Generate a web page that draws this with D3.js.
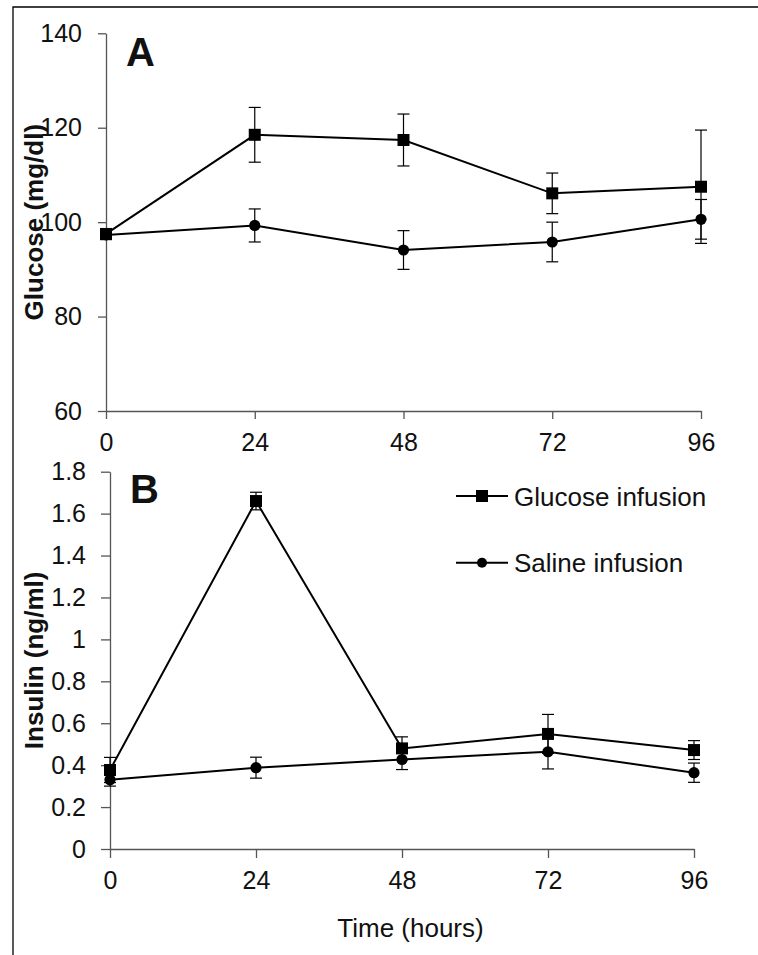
<!DOCTYPE html>
<html>
<head>
<meta charset="utf-8">
<script src="https://cdn.jsdelivr.net/npm/d3@7/dist/d3.min.js"></script>
<style>
  html, body { margin: 0; padding: 0; background: #fff; }
  svg { display: block; }
  text { font-family: "Liberation Sans", Arial, Helvetica, sans-serif; fill: #111; }
</style>
</head>
<body>
<svg id="fig" width="758" height="955"></svg>
<script>
// Sampling times (hours)
const hours = [0, 24, 48, 72, 96];
const xTicks = [0, 24, 48, 72, 96];

// Panel A: plasma glucose (mg/dl), mean and error
const glucoseArmGlucose = [97.5, 118.5, 117.4, 106.1, 107.5];
const glucoseArmGlucoseErr = [1.0, 5.8, 5.5, 4.3, 12.0];
const salineArmGlucose = [97.3, 99.3, 94.1, 95.8, 100.6];
const salineArmGlucoseErr = [1.0, 3.5, 4.1, 4.2, 4.2];
const yTicksA = [60, 80, 100, 120, 140];

// Panel B: plasma insulin (ng/ml), mean and error
const glucoseArmInsulin = [0.377, 1.66, 0.48, 0.549, 0.472];
const glucoseArmInsulinErr = [0.06, 0.042, 0.055, 0.093, 0.045];
const salineArmInsulin = [0.33, 0.388, 0.427, 0.464, 0.364];
const salineArmInsulinErr = [0.03, 0.05, 0.048, 0.082, 0.046];
const yTicksB = [0, 0.2, 0.4, 0.6, 0.8, 1, 1.2, 1.4, 1.6, 1.8];

const seriesNames = ["Glucose infusion", "Saline infusion"];

const svg = d3.select("#fig");
svg.append("rect").attr("width", 758).attr("height", 955).attr("fill", "#fff");

// Figure frame (left and top edges)
svg.append("path")
  .attr("d", "M13,955 L13,7 L758,7")
  .attr("fill", "none").attr("stroke", "#000").attr("stroke-width", 1.3);

const axisColor = "#555";

function drawPanel(cfg) {
  const g = svg.append("g");
  const x = d3.scaleLinear().domain([0, 96]).range([cfg.x0, cfg.x1]);
  const y = d3.scaleLinear().domain(cfg.yDomain).range([cfg.y1, cfg.y0]);

  const yAxis = d3.axisLeft(y).tickValues(cfg.yTicks).tickFormat(d3.format(""))
    .tickSizeInner(cfg.tick).tickSizeOuter(0).tickPadding(cfg.yPad);
  const xAxis = d3.axisBottom(x).tickValues(xTicks).tickFormat(d3.format(""))
    .tickSizeInner(cfg.tick).tickSizeOuter(0).tickPadding(22 - cfg.tick);

  const ya = g.append("g").attr("transform", `translate(${cfg.x0},0)`).call(yAxis);
  const xa = g.append("g").attr("transform", `translate(0,${cfg.y1})`).call(xAxis);
  [ya, xa].forEach(a => {
    a.select(".domain").attr("stroke", axisColor).attr("stroke-width", 1.3);
    a.selectAll(".tick line").attr("stroke", axisColor).attr("stroke-width", 1.3);
    a.selectAll(".tick text").attr("font-size", 25).attr("fill", "#111")
      .attr("font-family", "Liberation Sans, Arial, sans-serif");
  });

  // Y-axis title
  g.append("text")
    .attr("transform", `translate(43,${(cfg.y0 + cfg.y1) / 2}) rotate(-90)`)
    .attr("text-anchor", "middle").attr("font-size", 26).attr("font-weight", "bold")
    .text(cfg.yTitle);

  // Panel letter
  g.append("text").attr("x", cfg.letterX).attr("y", cfg.letterY)
    .attr("font-size", 40).attr("font-weight", "bold").text(cfg.letter);

  const line = d3.line().x(d => x(d.t)).y(d => y(d.v));

  cfg.series.forEach(s => {
    const pts = hours.map((t, i) => ({ t, v: s.values[i], e: s.errors[i] }));
    g.append("path").datum(pts).attr("d", line)
      .attr("fill", "none").attr("stroke", "#000").attr("stroke-width", 2);

    const eb = g.append("g").selectAll("g").data(pts).join("g");
    eb.append("line")
      .attr("x1", d => x(d.t)).attr("x2", d => x(d.t))
      .attr("y1", d => y(d.v + d.e)).attr("y2", d => y(d.v - d.e))
      .attr("stroke", "#000").attr("stroke-width", 1.2);
    [1, -1].forEach(sign => {
      eb.append("line")
        .attr("x1", d => x(d.t) - 6).attr("x2", d => x(d.t) + 6)
        .attr("y1", d => y(d.v + sign * d.e)).attr("y2", d => y(d.v + sign * d.e))
        .attr("stroke", "#000").attr("stroke-width", 1.2);
    });

    const mk = g.append("g").selectAll("path").data(pts).join("path")
      .attr("transform", d => `translate(${x(d.t)},${y(d.v)})`)
      .attr("fill", "#000");
    if (s.marker === "square") mk.attr("d", "M-6,-6H6V6H-6Z");
    else mk.attr("d", d3.symbol(d3.symbolCircle, Math.PI * 5.6 * 5.6)());
  });
  return { x, y };
}

drawPanel({
  x0: 106, x1: 701, y0: 33.3, y1: 411, tick: 8, yPad: 16,
  yDomain: [60, 140], yTicks: yTicksA,
  yTitle: "Glucose (mg/dl)", letter: "A", letterX: 126, letterY: 66,
  series: [
    { values: salineArmGlucose, errors: salineArmGlucoseErr, marker: "circle" },
    { values: glucoseArmGlucose, errors: glucoseArmGlucoseErr, marker: "square" }
  ]
});

drawPanel({
  x0: 110, x1: 694, y0: 471.7, y1: 849, tick: 9, yPad: 15,
  yDomain: [0, 1.8], yTicks: yTicksB,
  yTitle: "Insulin (ng/ml)", letter: "B", letterX: 130, letterY: 503,
  series: [
    { values: glucoseArmInsulin, errors: glucoseArmInsulinErr, marker: "square" },
    { values: salineArmInsulin, errors: salineArmInsulinErr, marker: "circle" }
  ]
});

// X-axis title
svg.append("text").attr("x", 410.5).attr("y", 937).attr("text-anchor", "middle")
  .attr("font-size", 26).text("Time (hours)");

// Legend
const legend = svg.append("g").selectAll("g").data(seriesNames).join("g")
  .attr("transform", (d, i) => `translate(456,${496 + i * 66.7})`);
legend.append("line").attr("x1", 0).attr("x2", 52).attr("y1", 0).attr("y2", 0)
  .attr("stroke", "#000").attr("stroke-width", 2);
legend.append("path").attr("transform", "translate(26,0)").attr("fill", "#000")
  .attr("d", (d, i) => i === 0 ? "M-6,-6H6V6H-6Z" : d3.symbol(d3.symbolCircle, Math.PI * 5 * 5)());
legend.append("text").attr("x", 58).attr("y", 9.5).attr("font-size", 26).text(d => d);
</script>
</body>
</html>
